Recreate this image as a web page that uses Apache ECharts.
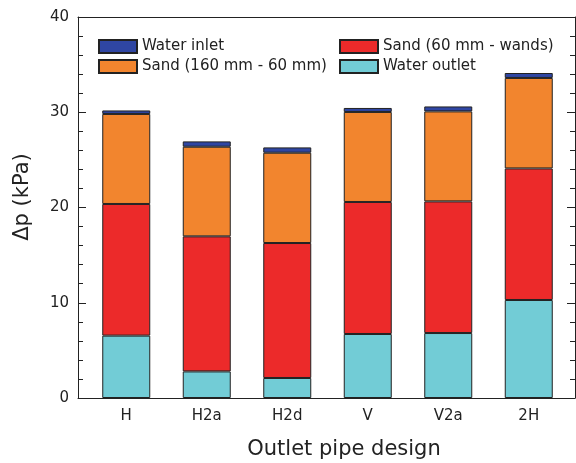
<!DOCTYPE html>
<html>
<head>
<meta charset="utf-8">
<script src="https://cdn.jsdelivr.net/npm/echarts@6/dist/echarts.min.js"></script>
<style>
  html, body { margin: 0; padding: 0; background: #fff; }
  #chart { width: 576px; height: 463px; }
</style>
</head>
<body>
<div id="chart"></div>
<script>
// Pressure drop contributions per outlet pipe design (kPa)
const categories = ['H', 'H2a', 'H2d', 'V', 'V2a', '2H'];
const waterOutlet = [6.55, 2.79, 2.10, 6.72, 6.82, 10.29];
const sand60Wands = [13.82, 14.18, 14.17, 13.86, 13.82, 13.81];
const sand160To60 = [9.45, 9.41, 9.48, 9.45, 9.45, 9.50];
const waterInlet = [0.37, 0.56, 0.56, 0.42, 0.52, 0.52];
const yMin = 0, yMax = 40, yStep = 10;

const FONT = 'DejaVu Sans';
const INK = '#222';

const chart = echarts.init(document.getElementById('chart'), null, { renderer: 'canvas' });

function stackSeries(name, data, color) {
  return {
    name: name,
    type: 'bar',
    stack: 'dp',
    xAxisIndex: 1,
    yAxisIndex: 2,
    barWidth: 48,
    data: data,
    itemStyle: { color: color, borderColor: INK, borderWidth: 1 },
    emphasis: { disabled: true }
  };
}

const legendText = { fontFamily: FONT, fontSize: 15, color: INK, lineHeight: 15 };

chart.setOption({
  animation: false,
  backgroundColor: '#fff',
  grid: [
    // frame with ticks on both sides
    { left: 78, right: 1, top: 17, bottom: 65, show: false },
    // bar area
    { left: 86, right: 7, top: 17, bottom: 65, show: false }
  ],
  legend: [
    {
      data: ['Water inlet', 'Sand (160 mm - 60 mm)'],
      orient: 'vertical', left: 93, top: 34,
      itemWidth: 38, itemHeight: 13, itemGap: 5,
      icon: 'rect', selectedMode: false,
      textStyle: legendText
    },
    {
      data: ['Sand (60 mm - wands)', 'Water outlet'],
      orient: 'vertical', left: 334, top: 34,
      itemWidth: 38, itemHeight: 13, itemGap: 5,
      icon: 'rect', selectedMode: false,
      textStyle: legendText
    }
  ],
  title: {
    text: 'Outlet pipe design',
    left: 339, top: 434, textAlign: 'center',
    textStyle: { fontFamily: FONT, fontSize: 21, fontWeight: 'normal', color: INK }
  },
  graphic: [{
    type: 'text',
    x: 23, y: 197,
    rotation: Math.PI / 2,
    style: {
      text: 'Δp (kPa)', align: 'center', verticalAlign: 'middle',
      font: '21px "DejaVu Sans"', fill: INK
    }
  }],
  xAxis: [
    {
      gridIndex: 0, type: 'value', min: 0, max: 1, position: 'bottom',
      axisLine: { show: true, onZero: false, lineStyle: { color: INK, width: 1 } },
      axisTick: { show: false }, axisLabel: { show: false }, splitLine: { show: false }
    },
    {
      gridIndex: 1, type: 'category', data: categories, position: 'bottom',
      axisLine: { show: false }, axisTick: { show: false }, splitLine: { show: false },
      axisLabel: { fontFamily: FONT, fontSize: 15, color: INK, margin: 11 }
    },
    {
      gridIndex: 0, type: 'value', min: 0, max: 1, position: 'top',
      axisLine: { show: true, onZero: false, lineStyle: { color: INK, width: 1 } },
      axisTick: { show: false }, axisLabel: { show: false }, splitLine: { show: false }
    }
  ],
  yAxis: [
    {
      gridIndex: 0, type: 'value', min: yMin, max: yMax, interval: yStep, position: 'left',
      axisLine: { show: true, onZero: false, lineStyle: { color: INK, width: 1 } },
      axisTick: { show: true, inside: true, length: 8, lineStyle: { color: INK } },
      minorTick: { show: true, splitNumber: 5, length: 5, lineStyle: { color: INK } },
      axisLabel: { fontFamily: FONT, fontSize: 15, color: INK, margin: 9 },
      splitLine: { show: false }
    },
    {
      gridIndex: 0, type: 'value', min: yMin, max: yMax, interval: yStep, position: 'right',
      axisLine: { show: true, onZero: false, lineStyle: { color: INK, width: 1 } },
      axisTick: { show: true, inside: true, length: 8, lineStyle: { color: INK } },
      minorTick: { show: true, splitNumber: 5, length: 5, lineStyle: { color: INK } },
      axisLabel: { show: false },
      splitLine: { show: false }
    },
    {
      gridIndex: 1, type: 'value', min: yMin, max: yMax, interval: yStep,
      show: false, splitLine: { show: false }
    }
  ],
  series: [
    stackSeries('Water outlet', waterOutlet, '#72ccd6'),
    stackSeries('Sand (60 mm - wands)', sand60Wands, '#ec2a2a'),
    stackSeries('Sand (160 mm - 60 mm)', sand160To60, '#f2852e'),
    stackSeries('Water inlet', waterInlet, '#2f46a3')
  ]
});
</script>
</body>
</html>
